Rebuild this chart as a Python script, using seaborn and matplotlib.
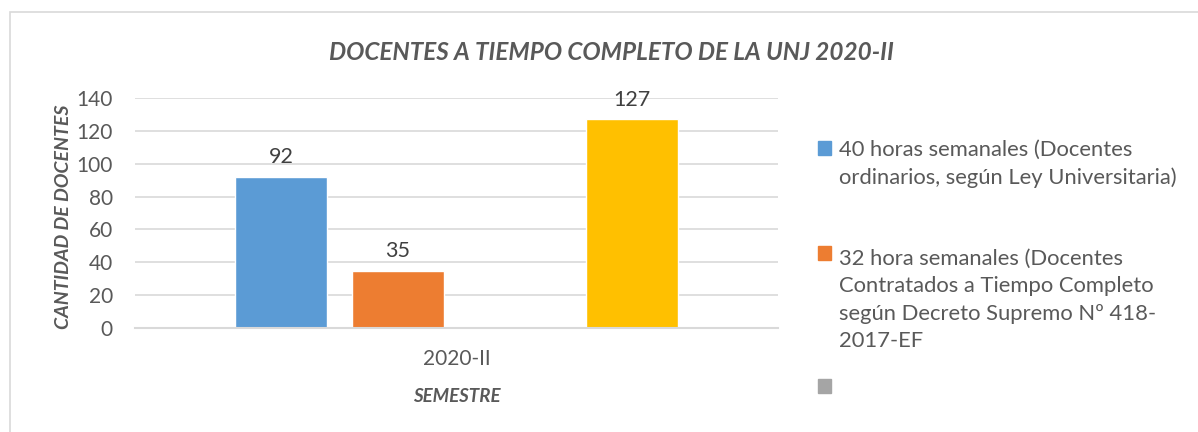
import numpy as np
import pandas as pd
import matplotlib
matplotlib.use("Agg")
import matplotlib.pyplot as plt
import seaborn as sns
from matplotlib.patches import Rectangle, Patch
from matplotlib.legend_handler import HandlerPatch

semestre = ['2020-II']
series = [
    '40 horas semanales (Docentes\nordinarios, según Ley Universitaria)',
    '32 hora semanales (Docentes\nContratados a Tiempo Completo\nsegún Decreto Supremo Nº 418-\n2017-EF',
    ' ',
    'Total',
]
valores = [92, 35, np.nan, 127]
colores = ['#5B9BD5', '#ED7D31', '#A5A5A5', '#FFC000']

df = pd.DataFrame({'semestre': semestre * len(series), 'serie': series, 'valor': valores})

sns.set_theme(style="white")
plt.rcParams['font.family'] = ['Lato', 'DejaVu Sans']
gris = '#595959'
interlineado = 1.45
tam_leyenda = 15.8

fig = plt.figure(figsize=(11.98, 4.32), dpi=100)
# marco exterior
fig.patches.append(Rectangle((10 / 1198, -0.05), 1.2, 1 - 12 / 432 + 0.05, transform=fig.transFigure,
                             fill=False, edgecolor='#d9d9d9', linewidth=1.2))

ax = fig.add_axes([0.1127, 0.2407, 0.5367, 0.5324])
sns.barplot(data=df, x='semestre', y='valor', hue='serie', hue_order=series,
            palette=colores, width=0.728, gap=0.214, ax=ax, legend=False, saturation=1)

ax.set_ylim(0, 140)
ax.set_yticks(range(0, 141, 20))
ax.yaxis.grid(True, color='#d9d9d9', linewidth=1.2)
ax.set_axisbelow(True)
for s in ['top', 'right', 'left']:
    ax.spines[s].set_visible(False)
ax.spines['bottom'].set_color('#d9d9d9')
ax.spines['bottom'].set_linewidth(1.5)
ax.tick_params(axis='both', length=0, labelsize=15, labelcolor=gris)
ax.tick_params(axis='y', pad=16)
ax.tick_params(axis='x', pad=15)

for c in ax.containers:
    ax.bar_label(c, labels=['' if np.isnan(v) else f'{int(v)}' for v in c.datavalues],
                 padding=7, fontsize=15.5, color='#404040')

ax.set_ylabel('CANTIDAD DE DOCENTES', fontsize=14, fontweight='bold', style='italic', color=gris)
ax.yaxis.set_label_coords(-0.098, 0.483)
ax.set_xlabel('SEMESTRE', fontsize=13.5, fontweight='bold', style='italic', color=gris)
ax.xaxis.set_label_coords(0.5, -0.262)

fig.text(611 / 1198, 1 - 52 / 432, 'DOCENTES A TIEMPO COMPLETO DE LA UNJ 2020-II',
         ha='center', va='center', fontsize=17.5, fontweight='bold', style='italic', color=gris)


def cuadro_arriba(n_lineas):
    # el cuadrito se alinea con la primera línea del texto, como en Excel
    def f(legend, orig_handle, xdescent, ydescent, width, height, fontsize):
        dy = (n_lineas - 1) / 2 * interlineado * fontsize
        return Rectangle((-xdescent, -ydescent + dy), width, height)
    return HandlerPatch(patch_func=f)


# leyenda: una entrada por bloque, como en el original
centros_y = [164, 300, 388]
for color, texto, yc in zip(colores[:3], series[:3], centros_y):
    h = Patch(color=color)
    leg = fig.legend([h], [texto], loc='center left',
                     bbox_to_anchor=(818 / 1198, 1 - yc / 432), frameon=False, fontsize=tam_leyenda,
                     handlelength=0.6, handleheight=0.6, handletextpad=0.35, borderpad=0,
                     borderaxespad=0, handler_map={h: cuadro_arriba(texto.count('\n') + 1)})
    for t in leg.get_texts():
        t.set_color(gris)
        t.set_linespacing(interlineado)

fig.savefig('out.png', dpi=100)
